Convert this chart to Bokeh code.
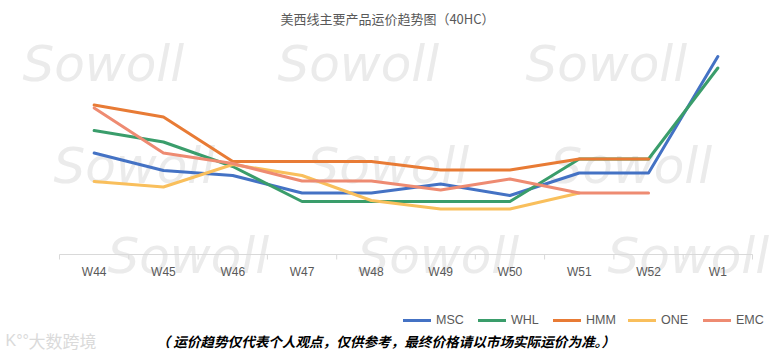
from bokeh.plotting import figure
from bokeh.models import Range1d, Label, Legend, LegendItem
from bokeh.core.properties import value
from bokeh.embed import file_html
from bokeh.resources import INLINE

# ---- data (weekly freight rate, USD/40HC) ----
weeks = ["W44", "W45", "W46", "W47", "W48", "W49", "W50", "W51", "W52", "W1"]
msc = [2030, 1680, 1580, 1230, 1230, 1410, 1180, 1630, 1630, 3960]
whl = [2480, 2250, 1760, 1060, 1060, 1060, 1060, 1910, 1910, 3730]
hmm = [2990, 2750, 1860, 1860, 1860, 1690, 1690, 1910, 1910]
one = [1460, 1350, 1800, 1580, 1080, 910, 910, 1230]
emc = [2930, 2030, 1820, 1470, 1470, 1290, 1510, 1230, 1230]

series_names = ["MSC", "WHL", "HMM", "ONE", "EMC"]
series_values = [msc, whl, hmm, one, emc]
series_colors = ["#4472C4", "#3A9D6B", "#E87B35", "#F9BF5C", "#EE8B72"]

title_text = "美西线主要产品运价趋势图（40HC）"
note_text = "（ 运价趋势仅代表个人观点，仅供参考，最终价格请以市场实际运价为准。）"
logo_text = "大数跨境"
watermark = "Sowoll"

# ---- layout (pixels of the 774x353 canvas) ----
W, H = 774, 353
plot_left, plot_right, plot_top, plot_bottom = 59, 752, 40, 254
y_max = 4280
n = len(weeks)
ux = (plot_right - plot_left) / n          # px per category
uy = (plot_bottom - plot_top) / y_max      # px per value unit

x_range = Range1d(-plot_left / ux, n + (W - plot_right) / ux)
y_range = Range1d(-(H - plot_bottom) / uy, y_max + plot_top / uy)

p = figure(width=W, height=H, output_backend="svg", toolbar_location=None,
           x_range=x_range, y_range=y_range,
           x_axis_location=None, y_axis_location=None,
           min_border=0)
p.outline_line_color = None
p.background_fill_color = "white"
p.border_fill_color = "white"
p.grid.visible = False

def sy(py):
    return H - py

# watermarks
wm_pos = [(22, 85), (277, 85), (525, 85),
          (53, 187), (307, 187), (550, 187),
          (107, 277), (357, 277), (607, 277)]
for (wx, wy) in wm_pos:
    p.add_layout(Label(x=wx, y=sy(wy - 22), x_units="screen", y_units="screen",
                       text=watermark, text_font="DejaVu Sans",
                       text_font_style="italic", text_font_size="50px",
                       text_color="#EBEBEB", text_baseline="alphabetic",
                       level="underlay"))

# category axis drawn with the figure's scales
xs = [i + 0.5 for i in range(n)]
bounds = list(range(n + 1))
p.segment(x0=[0], y0=[0], x1=[n], y1=[0], line_color="#D9D9D9", line_width=1)
p.segment(x0=bounds, y0=[0] * len(bounds), x1=bounds,
          y1=[-5 / uy] * len(bounds), line_color="#D9D9D9", line_width=1)
p.text(x=xs, y=[0] * n, text=weeks, text_align="center", text_baseline="top",
       y_offset=10, text_font=value("Liberation Sans"), text_font_size="12px",
       text_color="#595959")

items = []
for name, vals, col in zip(series_names, series_values, series_colors):
    r = p.line(xs[:len(vals)], vals, line_color=col, line_width=3,
               line_join="round", line_cap="round")
    items.append(LegendItem(label=name, renderers=[r]))

legend = Legend(items=items, orientation="horizontal", location=(403, sy(327)),
                padding=0, margin=0, spacing=5, label_standoff=5,
                glyph_width=28, glyph_height=14, label_height=14,
                label_width=37, border_line_color=None,
                background_fill_alpha=0,
                label_text_font="Liberation Sans",
                label_text_font_size="12.5px", label_text_color="#595959")
p.add_layout(legend, "center")

p.add_layout(Label(x=387, y=sy(18), x_units="screen", y_units="screen",
                   text=title_text, text_font="Noto Sans CJK SC",
                   text_font_size="13px", text_color="#595959",
                   text_align="center", text_baseline="middle"))
p.add_layout(Label(x=156, y=sy(340), x_units="screen", y_units="screen",
                   text=note_text, text_font="Noto Sans CJK SC",
                   text_font_size="13.6px", text_font_style="bold italic",
                   text_color="#000000", text_align="left",
                   text_baseline="middle"))
p.add_layout(Label(x=5, y=sy(340), x_units="screen", y_units="screen",
                   text="K°°", text_font="Liberation Sans",
                   text_font_size="16px", text_color="#DADADA",
                   text_align="left", text_baseline="middle"))
p.add_layout(Label(x=28, y=sy(340), x_units="screen", y_units="screen",
                   text=logo_text, text_font="Noto Sans CJK SC",
                   text_font_size="17px", text_color="#DADADA",
                   text_align="left", text_baseline="middle"))

open("out.html", "w").write(file_html(p, INLINE))
